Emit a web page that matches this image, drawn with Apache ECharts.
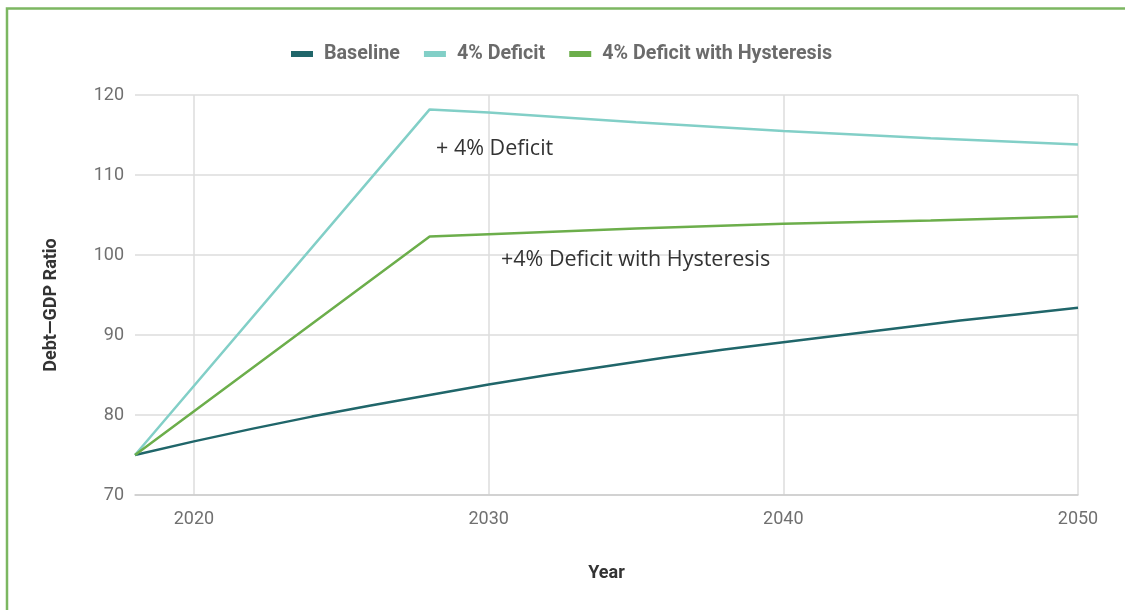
<!DOCTYPE html>
<html>
<head>
<meta charset="utf-8">
<script src="https://cdn.jsdelivr.net/npm/echarts@6/dist/echarts.min.js"></script>
<style>
html,body{margin:0;padding:0;background:#fff;}
#chart{width:1125px;height:610px;}
</style>
</head>
<body>
<div id="chart"></div>
<script>
// ---- data ----
const seriesNames = ['Baseline', '4% Deficit', '4% Deficit with Hysteresis'];
const baselineYears = [2018, 2020, 2022, 2024, 2026, 2028, 2030, 2032, 2034, 2036, 2038, 2040, 2042, 2044, 2046, 2048, 2050];
const baselineValues = [75, 76.7, 78.3, 79.8, 81.2, 82.5, 83.8, 85.0, 86.1, 87.2, 88.2, 89.1, 90.0, 90.9, 91.8, 92.6, 93.4];
const deficitYears = [2018, 2028, 2030, 2035, 2040, 2045, 2050];
const deficitValues = [75, 118.2, 117.8, 116.6, 115.5, 114.6, 113.8];
const hysteresisYears = [2018, 2028, 2030, 2035, 2040, 2045, 2050];
const hysteresisValues = [75, 102.3, 102.6, 103.3, 103.9, 104.3, 104.8];
const xTickYears = [2020, 2030, 2040, 2050];
const annotations = ['+ 4% Deficit', '+4% Deficit with Hysteresis'];

const colors = ['#20666a', '#82cfc7', '#6cae4b'];
const pairs = (xs, ys) => xs.map((x, i) => [x, ys[i]]);

const chart = echarts.init(document.getElementById('chart'));
const lineSeries = (name, data, color) => ({
  name: name,
  type: 'line',
  data: data,
  showSymbol: false,
  symbol: 'none',
  lineStyle: { width: 2.5, color: color },
  itemStyle: { color: color },
  emphasis: { disabled: true }
});

chart.setOption({
  animation: false,
  backgroundColor: '#fff',
  grid: { left: 135, right: 47, top: 95, bottom: 115 },
  legend: {
    left: 286,
    top: 39,
    icon: 'rect',
    itemWidth: 22,
    itemHeight: 6,
    itemGap: 24,
    textStyle: { fontFamily: 'Roboto', fontWeight: 'bold', fontSize: 19.7, color: '#6b6b6b', padding: [0, 0, 0, 6] },
    data: seriesNames
  },
  xAxis: {
    type: 'value',
    min: 2018,
    max: 2050,
    name: 'Year',
    nameLocation: 'middle',
    nameGap: 69,
    nameTextStyle: { fontFamily: 'Roboto', fontWeight: 'bold', fontSize: 18, color: '#333' },
    axisLine: { show: true, lineStyle: { color: '#cccccc', width: 1.5 } },
    axisTick: { show: false, customValues: xTickYears },
    axisLabel: { customValues: xTickYears, margin: 15, fontFamily: 'Roboto', fontSize: 18, color: '#707070', formatter: v => String(v) },
    splitLine: { show: true, lineStyle: { color: '#dddddd', width: 1.5 } }
  },
  yAxis: {
    type: 'value',
    min: 70,
    max: 120,
    interval: 10,
    name: 'Debt\u2014GDP Ratio',
    nameLocation: 'middle',
    nameGap: 75,
    nameTextStyle: { fontFamily: 'Roboto', fontWeight: 'bold', fontSize: 18, color: '#333', padding: [0, 20, 0, 0] },
    axisLine: { show: false },
    axisTick: { show: false },
    axisLabel: { margin: 11, fontFamily: 'Roboto', fontSize: 18, color: '#707070' },
    splitLine: { show: true, lineStyle: { color: '#dddddd', width: 1.5 } }
  },
  series: [
    lineSeries(seriesNames[0], pairs(baselineYears, baselineValues), colors[0]),
    lineSeries(seriesNames[1], pairs(deficitYears, deficitValues), colors[1]),
    lineSeries(seriesNames[2], pairs(hysteresisYears, hysteresisValues), colors[2])
  ],
  graphic: [
    { type: 'rect', shape: { x: 7, y: 8.5, width: 1140, height: 620 }, style: { fill: 'none', stroke: '#7cb761', lineWidth: 2.5 }, silent: true, z: 100 },
    { type: 'text', left: 436, top: 138, style: { text: annotations[0], font: '21.5px "Open Sans"', fill: '#333' }, z: 100 },
    { type: 'text', left: 501, top: 249, style: { text: annotations[1], font: '21.5px "Open Sans"', fill: '#333' }, z: 100 }
  ]
});
</script>
</body>
</html>
